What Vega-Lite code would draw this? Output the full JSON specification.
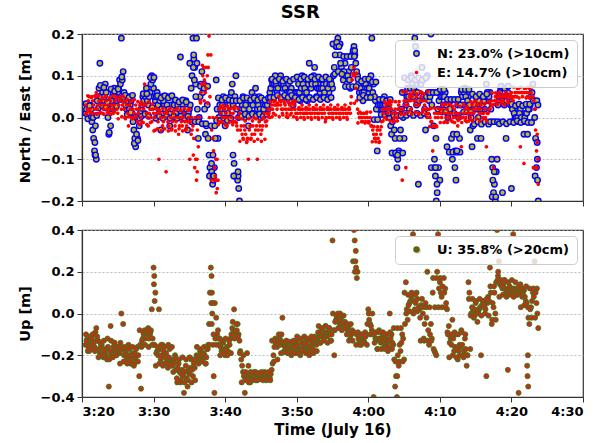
{
"$schema": "https://vega.github.io/schema/vega-lite/v6.json",
"padding": {"left": 16, "top": 4, "right": 10, "bottom": 2},
"title": {"text": "SSR", "fontSize": 18, "fontWeight": "bold", "font": "DejaVu Sans", "color": "#000", "anchor": "middle", "offset": 5},
"data": {"values": [
{"t":20.5,"n":0.01,"e":0.03,"u":-0.15},{"t":20.75,"n":0.03,"e":0.02,"u":-0.12},{"t":21,"n":0.0,"e":0.05,"u":-0.18},{"t":21.25,"n":0.02,"e":0.01,"u":-0.14},
{"t":21.5,"n":-0.03,"e":0.04,"u":-0.1},{"t":21.75,"n":-0.08,"e":0.02,"u":-0.16},{"t":22,"n":-0.1,"e":0.06,"u":-0.07},{"t":22.25,"n":0.05,"e":0.03,"u":-0.13},
{"t":22.5,"n":0.13,"e":0.01,"u":-0.19},{"t":22.75,"n":0.07,"e":0.04,"u":-0.15},{"t":23,"n":0.04,"e":0.02,"u":-0.21},{"t":23.25,"n":0.08,"e":0.05,"u":-0.17},
{"t":23.5,"n":0.03,"e":0.02,"u":-0.22},{"t":23.75,"n":-0.04,"e":0.01,"u":-0.35},{"t":24,"n":-0.02,"e":0.04,"u":-0.06},{"t":24.25,"n":0.05,"e":0.02,"u":-0.18},
{"t":24.5,"n":0.07,"e":0.03,"u":-0.14},{"t":24.75,"n":0.03,"e":0.05,"u":-0.2},{"t":25,"n":0.06,"e":0.01,"u":-0.16},{"t":25.25,"n":0.09,"e":0.04,"u":-0.19},
{"t":25.5,"n":0.19,"e":0.02,"u":0.0},{"t":25.75,"n":0.11,"e":0.05,"u":-0.05},{"t":26,"n":0.04,"e":0.0,"u":-0.18},{"t":26.25,"n":0.02,"e":0.03,"u":-0.22},
{"t":26.5,"n":0.05,"e":-0.02,"u":-0.15},{"t":26.75,"n":0.03,"e":0.02,"u":-0.24},{"t":27,"n":0.01,"e":0.04,"u":-0.19},{"t":27.25,"n":-0.03,"e":0.01,"u":-0.25},
{"t":27.5,"n":-0.07,"e":0.03,"u":-0.21},{"t":27.75,"n":-0.05,"e":-0.01,"u":-0.16},{"t":28,"n":-0.02,"e":0.02,"u":-0.3},{"t":28.25,"n":0.02,"e":0.0,"u":-0.36},
{"t":28.5,"n":0.05,"e":0.03,"u":-0.12},{"t":28.75,"n":0.01,"e":0.08,"u":-0.08},{"t":29,"n":0.07,"e":0.01,"u":-0.11},{"t":29.25,"n":0.03,"e":-0.02,"u":-0.07},
{"t":29.5,"n":0.06,"e":0.02,"u":-0.1},{"t":29.75,"n":0.1,"e":-0.01,"u":0.02},{"t":30,"n":0.07,"e":0.01,"u":0.22},{"t":30.25,"n":0.04,"e":-0.03,"u":0.1},
{"t":30.5,"n":0.06,"e":0.02,"u":-0.18},{"t":30.75,"n":0.02,"e":-0.1,"u":0.02},{"t":31,"n":-0.03,"e":0.0,"u":-0.22},{"t":31.25,"n":0.05,"e":-0.02,"u":-0.15},
{"t":31.5,"n":0.03,"e":0.01,"u":-0.24},{"t":31.75,"n":0.01,"e":-0.13,"u":-0.19},{"t":32,"n":0.05,"e":-0.01,"u":-0.26},{"t":32.25,"n":-0.02,"e":0.02,"u":-0.17},
{"t":32.5,"n":0.03,"e":-0.03,"u":-0.22},{"t":32.75,"n":0.0,"e":0.01,"u":-0.28},{"t":33,"n":0.04,"e":-0.02,"u":-0.2},{"t":33.25,"n":0.02,"e":0.02,"u":-0.31},
{"t":33.5,"n":0.01,"e":-0.04,"u":-0.24},{"t":33.75,"n":0.145,"e":0.0,"u":-0.33},{"t":34,"n":0.03,"e":-0.02,"u":-0.27},{"t":34.25,"n":0.0,"e":0.01,"u":-0.38},
{"t":34.5,"n":0.04,"e":-0.03,"u":-0.25},{"t":34.75,"n":-0.03,"e":-0.01,"u":-0.35},{"t":35,"n":0.02,"e":0.02,"u":-0.29},{"t":35.25,"n":0.07,"e":-0.04,"u":-0.22},
{"t":35.5,"n":0.19,"e":-0.02,"u":-0.3},{"t":35.75,"n":0.12,"e":-0.12,"u":-0.26},{"t":36,"n":0.19,"e":-0.15,"u":-0.2},{"t":36.25,"n":-0.05,"e":-0.07,"u":-0.23},
{"t":36.5,"n":0.05,"e":0.04,"u":-0.18},{"t":36.75,"n":0.11,"e":0.08,"u":-0.21},{"t":37,"n":0.08,"e":0.12,"u":-0.19},{"t":37.25,"n":-0.04,"e":0.06,"u":-0.24},
{"t":37.5,"n":0.03,"e":0.1,"u":-0.17},{"t":37.75,"n":-0.09,"e":0.195,"u":-0.05},{"t":38,"n":-0.14,"e":0.15,"u":0.22},{"t":38.25,"n":-0.16,"e":-0.05,"u":0.05},
{"t":38.5,"n":-0.12,"e":-0.12,"u":-0.38},{"t":38.75,"n":0.09,"e":-0.18,"u":-0.02},{"t":39,"n":-0.05,"e":-0.15,"u":-0.08},{"t":39.25,"n":0.03,"e":0.02,"u":-0.12},
{"t":39.5,"n":0.01,"e":-0.01,"u":-0.18},{"t":39.75,"n":0.05,"e":0.03,"u":-0.14},{"t":40,"n":-0.02,"e":0.0,"u":-0.2},{"t":40.25,"n":0.03,"e":-0.02,"u":-0.16},
{"t":40.5,"n":0.0,"e":0.02,"u":-0.19},{"t":40.75,"n":0.05,"e":0.01,"u":-0.12},{"t":41,"n":0.08,"e":-0.01,"u":-0.07},{"t":41.25,"n":-0.11,"e":0.02,"u":0.02},
{"t":41.5,"n":0.1,"e":0.0,"u":-0.1},{"t":41.75,"n":-0.15,"e":-0.03,"u":-0.05},{"t":42,"n":-0.2,"e":0.01,"u":-0.13},{"t":42.25,"n":0.02,"e":-0.02,"u":-0.22},
{"t":42.5,"n":0.05,"e":-0.05,"u":-0.28},{"t":42.75,"n":0.0,"e":-0.03,"u":-0.38},{"t":43,"n":0.04,"e":-0.06,"u":-0.31},{"t":43.25,"n":-0.02,"e":-0.1,"u":-0.25},
{"t":43.5,"n":0.03,"e":-0.02,"u":-0.33},{"t":43.75,"n":0.06,"e":-0.04,"u":-0.29},{"t":44,"n":0.01,"e":0.0,"u":-0.31},{"t":44.25,"n":0.07,"e":-0.03,"u":-0.28},
{"t":44.5,"n":0.02,"e":-0.1,"u":-0.32},{"t":44.75,"n":0.05,"e":-0.01,"u":-0.29},{"t":45,"n":0.0,"e":-0.04,"u":-0.31},{"t":45.25,"n":0.03,"e":-0.02,"u":-0.3},
{"t":45.5,"n":0.01,"e":0.01,"u":-0.28},{"t":45.75,"n":0.04,"e":-0.02,"u":-0.32},{"t":46,"n":0.02,"e":0.02,"u":-0.29},{"t":46.25,"n":0.06,"e":0.0,"u":-0.31},
{"t":46.5,"n":0.09,"e":0.03,"u":-0.27},{"t":46.75,"n":0.07,"e":0.01,"u":-0.2},{"t":47,"n":0.1,"e":0.04,"u":-0.12},{"t":47.25,"n":0.06,"e":0.02,"u":-0.16},
{"t":47.5,"n":0.08,"e":0.05,"u":-0.1},{"t":47.75,"n":0.1,"e":0.03,"u":-0.15},{"t":48,"n":0.07,"e":0.01,"u":-0.02},{"t":48.25,"n":0.09,"e":0.04,"u":-0.18},
{"t":48.5,"n":0.05,"e":0.02,"u":-0.14},{"t":48.75,"n":0.08,"e":0.0,"u":-0.19},{"t":49,"n":0.04,"e":0.03,"u":-0.16},{"t":49.25,"n":0.07,"e":0.01,"u":-0.2},
{"t":49.5,"n":0.03,"e":0.04,"u":-0.15},{"t":49.75,"n":0.06,"e":0.02,"u":-0.18},{"t":50,"n":0.05,"e":0.0,"u":-0.13},{"t":50.25,"n":0.08,"e":0.02,"u":-0.17},
{"t":50.5,"n":0.04,"e":0.01,"u":-0.2},{"t":50.75,"n":0.1,"e":0.03,"u":-0.14},{"t":51,"n":0.06,"e":0.0,"u":-0.18},{"t":51.25,"n":0.08,"e":0.02,"u":-0.12},
{"t":51.5,"n":0.04,"e":0.01,"u":-0.16},{"t":51.75,"n":0.13,"e":0.03,"u":-0.2},{"t":52,"n":0.07,"e":0.0,"u":-0.13},{"t":52.25,"n":0.09,"e":0.02,"u":-0.17},
{"t":52.5,"n":0.12,"e":0.01,"u":-0.11},{"t":52.75,"n":0.05,"e":0.03,"u":-0.15},{"t":53,"n":0.08,"e":0.0,"u":-0.09},{"t":53.25,"n":0.06,"e":0.02,"u":-0.14},
{"t":53.5,"n":0.09,"e":0.01,"u":-0.08},{"t":53.75,"n":0.05,"e":0.03,"u":-0.12},{"t":54,"n":0.07,"e":-0.01,"u":-0.06},{"t":54.25,"n":0.08,"e":0.02,"u":-0.11},
{"t":54.5,"n":0.06,"e":0.01,"u":-0.07},{"t":54.75,"n":0.09,"e":0.03,"u":-0.13},{"t":55,"n":0.07,"e":0.0,"u":0.35},{"t":55.25,"n":0.12,"e":0.02,"u":-0.2},
{"t":55.5,"n":0.17,"e":0.01,"u":-0.03},{"t":55.75,"n":0.19,"e":0.03,"u":0.0},{"t":56,"n":0.15,"e":0.0,"u":-0.05},{"t":56.25,"n":0.12,"e":0.02,"u":-0.02},
{"t":56.5,"n":0.09,"e":0.01,"u":-0.07},{"t":56.75,"n":0.13,"e":0.03,"u":-0.04},{"t":57,"n":0.08,"e":0.0,"u":-0.1},{"t":57.25,"n":0.11,"e":0.02,"u":-0.06},
{"t":57.5,"n":0.07,"e":0.01,"u":-0.12},{"t":57.75,"n":0.15,"e":0.09,"u":-0.08},{"t":58,"n":0.17,"e":0.12,"u":0.4},{"t":58.25,"n":0.13,"e":0.07,"u":0.3},
{"t":58.5,"n":0.1,"e":0.02,"u":0.2},{"t":58.75,"n":0.06,"e":0.0,"u":-0.13},{"t":59,"n":0.08,"e":0.01,"u":-0.15},{"t":59.25,"n":0.04,"e":-0.01,"u":-0.12},
{"t":59.5,"n":0.07,"e":0.0,"u":-0.14},{"t":59.75,"n":0.09,"e":0.01,"u":-0.1},{"t":60,"n":0.06,"e":-0.01,"u":0.02},{"t":60.25,"n":0.08,"e":0.0,"u":-0.05},
{"t":60.5,"n":0.19,"e":-0.02,"u":-0.08},{"t":60.75,"n":0.08,"e":-0.04,"u":-0.4},{"t":61,"n":0.04,"e":-0.05,"u":-0.12},{"t":61.25,"n":-0.08,"e":-0.03,"u":-0.17},
{"t":61.5,"n":0.02,"e":-0.06,"u":-0.08},{"t":61.75,"n":0.04,"e":-0.04,"u":-0.14},{"t":62,"n":0.02,"e":0.02,"u":-0.11},{"t":62.25,"n":0.05,"e":0.0,"u":-0.16},
{"t":62.5,"n":0.01,"e":0.03,"u":-0.12},{"t":62.75,"n":0.03,"e":0.01,"u":-0.18},{"t":63,"n":0.0,"e":0.04,"u":0.0},{"t":63.25,"n":-0.04,"e":0.02,"u":-0.1},
{"t":63.5,"n":0.01,"e":-0.01,"u":-0.15},{"t":63.75,"n":-0.05,"e":0.02,"u":-0.35},{"t":64,"n":-0.12,"e":0.0,"u":-0.4},{"t":64.25,"n":-0.08,"e":0.03,"u":-0.25},
{"t":64.5,"n":-0.03,"e":0.01,"u":-0.18},{"t":64.75,"n":0.06,"e":-0.15,"u":-0.1},{"t":65,"n":-0.05,"e":0.04,"u":-0.22},{"t":65.25,"n":0.03,"e":-0.12,"u":0.15},
{"t":65.5,"n":0.07,"e":0.03,"u":-0.03},{"t":65.75,"n":0.02,"e":0.05,"u":0.05},{"t":66,"n":0.1,"e":0.02,"u":0.08},{"t":66.25,"n":0.05,"e":0.06,"u":0.38},
{"t":66.5,"n":0.19,"e":0.03,"u":0.02},{"t":66.75,"n":0.03,"e":0.05,"u":0.1},{"t":67,"n":-0.16,"e":0.01,"u":0.3},{"t":67.25,"n":0.08,"e":0.04,"u":-0.02},
{"t":67.5,"n":0.12,"e":0.06,"u":0.07},{"t":67.75,"n":0.05,"e":0.02,"u":-0.12},{"t":68,"n":-0.03,"e":0.04,"u":0.05},{"t":68.25,"n":0.1,"e":0.0,"u":0.2},
{"t":68.5,"n":0.04,"e":0.02,"u":-0.15},{"t":68.75,"n":0.2,"e":-0.01,"u":-0.05},{"t":69,"n":0.06,"e":-0.08,"u":0.1},{"t":69.25,"n":-0.1,"e":0.01,"u":-0.18},
{"t":69.5,"n":-0.2,"e":-0.02,"u":-0.2},{"t":69.75,"n":0.02,"e":0.0,"u":0.38},{"t":70,"n":-0.15,"e":0.02,"u":0.15},{"t":70.25,"n":0.05,"e":0.0,"u":0.08},
{"t":70.5,"n":0.03,"e":0.03,"u":0.3},{"t":70.75,"n":0.06,"e":-0.01,"u":0.12},{"t":71,"n":-0.07,"e":0.02,"u":0.02},{"t":71.25,"n":0.02,"e":0.0,"u":-0.06},
{"t":71.5,"n":0.04,"e":0.03,"u":-0.12},{"t":71.75,"n":-0.1,"e":-0.01,"u":-0.03},{"t":72,"n":0.01,"e":0.02,"u":-0.18},{"t":72.25,"n":-0.15,"e":0.0,"u":-0.1},
{"t":72.5,"n":0.03,"e":-0.02,"u":-0.22},{"t":72.75,"n":-0.05,"e":0.01,"u":-0.15},{"t":73,"n":0.06,"e":-0.07,"u":-0.08},{"t":73.25,"n":0.03,"e":0.0,"u":-0.2},
{"t":73.5,"n":0.07,"e":0.02,"u":-0.12},{"t":73.75,"n":0.02,"e":-0.01,"u":-0.25},{"t":74,"n":0.05,"e":0.02,"u":0.15},{"t":74.25,"n":-0.03,"e":0.0,"u":-0.17},
{"t":74.5,"n":-0.07,"e":0.03,"u":0.03},{"t":74.75,"n":0.02,"e":0.01,"u":-0.02},{"t":75,"n":0.05,"e":0.04,"u":0.05},{"t":75.25,"n":-0.05,"e":0.02,"u":-0.04},
{"t":75.5,"n":0.04,"e":0.01,"u":0.02},{"t":75.75,"n":-0.05,"e":0.03,"u":-0.2},{"t":76,"n":0.05,"e":0.0,"u":0.06},{"t":76.25,"n":0.02,"e":0.02,"u":0.03},
{"t":76.5,"n":0.08,"e":-0.07,"u":-0.3},{"t":76.75,"n":0.04,"e":0.01,"u":0.08},{"t":77,"n":0.06,"e":0.02,"u":0.22},{"t":77.25,"n":-0.1,"e":0.04,"u":-0.05},
{"t":77.5,"n":-0.18,"e":-0.12,"u":0.03},{"t":77.75,"n":-0.2,"e":0.05,"u":0.0},{"t":78,"n":-0.1,"e":0.04,"u":0.4},{"t":78.25,"n":0.05,"e":0.06,"u":0.25},
{"t":78.5,"n":0.07,"e":0.04,"u":0.15},{"t":78.75,"n":-0.18,"e":0.05,"u":0.12},{"t":79,"n":0.03,"e":0.03,"u":0.16},{"t":79.25,"n":-0.05,"e":0.06,"u":0.1},
{"t":79.5,"n":0.06,"e":0.04,"u":-0.27},{"t":79.75,"n":0.04,"e":0.05,"u":0.13},{"t":80,"n":-0.17,"e":0.06,"u":0.1},{"t":80.25,"n":0.02,"e":0.04,"u":0.38},
{"t":80.5,"n":0.0,"e":0.06,"u":0.12},{"t":80.75,"n":0.01,"e":0.05,"u":0.09},{"t":81,"n":-0.01,"e":0.07,"u":-0.38},{"t":81.25,"n":0.02,"e":-0.07,"u":0.14},
{"t":81.5,"n":0.0,"e":0.06,"u":0.08},{"t":81.75,"n":-0.04,"e":-0.11,"u":0.11},{"t":82,"n":0.01,"e":0.07,"u":0.06},{"t":82.25,"n":-0.04,"e":0.05,"u":-0.3},
{"t":82.5,"n":0.02,"e":0.07,"u":-0.05},{"t":82.75,"n":0.05,"e":0.06,"u":0.03},{"t":83,"n":0.08,"e":0.05,"u":0.1},{"t":83.25,"n":0.0,"e":0.02,"u":0.25},
{"t":83.5,"n":-0.12,"e":-0.08,"u":0.05},{"t":83.75,"n":-0.2,"e":-0.16,"u":-0.07},
{"t":20.625,"n":0.02,"e":0.01,"u":-0.13},{"t":20.875,"n":0.01,"e":0.04,"u":-0.16},{"t":21.125,"n":0.03,"e":0.02,"u":-0.15},{"t":21.375,"n":-0.01,"e":0.05,"u":-0.12},
{"t":21.625,"n":-0.05,"e":0.03,"u":-0.14},{"t":21.875,"n":-0.02,"e":0.05,"u":-0.09},{"t":22.125,"n":0.04,"e":0.02,"u":-0.11},{"t":22.375,"n":0.07,"e":0.04,"u":-0.17},
{"t":22.625,"n":0.05,"e":0.03,"u":-0.16},{"t":22.875,"n":0.06,"e":0.01,"u":-0.19},{"t":23.125,"n":0.05,"e":0.03,"u":-0.18},{"t":23.375,"n":0.06,"e":0.04,"u":-0.2},
{"t":23.625,"n":0.0,"e":0.03,"u":-0.16},{"t":23.875,"n":0.02,"e":0.02,"u":-0.18},{"t":24.125,"n":0.04,"e":0.03,"u":-0.2},{"t":24.375,"n":0.06,"e":0.01,"u":-0.16},
{"t":24.625,"n":0.05,"e":0.04,"u":-0.17},{"t":24.875,"n":0.04,"e":0.02,"u":-0.19},{"t":25.125,"n":0.07,"e":0.03,"u":-0.17},{"t":25.375,"n":0.08,"e":0.05,"u":-0.14},
{"t":25.625,"n":0.09,"e":0.03,"u":-0.16},{"t":25.875,"n":0.06,"e":0.02,"u":-0.2},{"t":26.125,"n":0.03,"e":0.04,"u":-0.19},{"t":26.375,"n":0.04,"e":0.01,"u":-0.2},
{"t":26.625,"n":0.02,"e":0.03,"u":-0.21},{"t":26.875,"n":0.04,"e":0.0,"u":-0.2},{"t":27.125,"n":-0.01,"e":0.02,"u":-0.22},{"t":27.375,"n":-0.05,"e":0.0,"u":-0.19},
{"t":27.625,"n":-0.04,"e":0.02,"u":-0.23},{"t":27.875,"n":0.0,"e":0.01,"u":-0.2},{"t":28.125,"n":0.01,"e":0.03,"u":-0.15},{"t":28.375,"n":0.03,"e":-0.01,"u":-0.13},
{"t":28.625,"n":0.04,"e":0.02,"u":-0.1},{"t":28.875,"n":0.05,"e":0.03,"u":-0.12},{"t":29.125,"n":0.04,"e":0.0,"u":-0.09},{"t":29.375,"n":0.05,"e":0.01,"u":-0.12},
{"t":29.625,"n":0.08,"e":0.0,"u":-0.08},{"t":29.875,"n":0.09,"e":0.02,"u":-0.12},{"t":30.125,"n":0.05,"e":0.0,"u":-0.15},{"t":30.375,"n":0.05,"e":0.01,"u":-0.19},
{"t":30.625,"n":0.03,"e":-0.01,"u":-0.2},{"t":30.875,"n":0.04,"e":0.01,"u":-0.17},{"t":31.125,"n":0.02,"e":0.0,"u":-0.2},{"t":31.375,"n":0.04,"e":-0.01,"u":-0.18},
{"t":31.625,"n":0.02,"e":0.0,"u":-0.21},{"t":31.875,"n":0.03,"e":0.01,"u":-0.23},{"t":32.125,"n":0.02,"e":-0.02,"u":-0.21},{"t":32.375,"n":0.01,"e":0.0,"u":-0.24},
{"t":32.625,"n":0.02,"e":-0.01,"u":-0.25},{"t":32.875,"n":0.03,"e":0.0,"u":-0.23},{"t":33.125,"n":0.01,"e":-0.01,"u":-0.27},{"t":33.375,"n":0.03,"e":0.0,"u":-0.26},
{"t":33.625,"n":0.02,"e":-0.02,"u":-0.28},{"t":33.875,"n":0.01,"e":-0.01,"u":-0.29},{"t":34.125,"n":0.02,"e":0.0,"u":-0.3},{"t":34.375,"n":0.01,"e":-0.01,"u":-0.28},
{"t":34.625,"n":0.02,"e":-0.02,"u":-0.31},{"t":34.875,"n":0.01,"e":0.0,"u":-0.27},{"t":35.125,"n":0.03,"e":-0.01,"u":-0.26},{"t":35.375,"n":0.1,"e":-0.03,"u":-0.27},
{"t":35.625,"n":0.14,"e":-0.05,"u":-0.24},{"t":35.875,"n":0.08,"e":-0.1,"u":-0.22},{"t":36.125,"n":0.02,"e":-0.03,"u":-0.21},{"t":36.375,"n":0.0,"e":0.0,"u":-0.2},
{"t":36.625,"n":0.08,"e":0.06,"u":-0.2},{"t":36.875,"n":0.06,"e":0.1,"u":-0.22},{"t":37.125,"n":0.02,"e":0.08,"u":-0.2},{"t":37.375,"n":-0.02,"e":0.07,"u":-0.21},
{"t":37.625,"n":-0.05,"e":0.12,"u":-0.15},{"t":37.875,"n":-0.12,"e":0.05,"u":0.1},{"t":38.125,"n":-0.13,"e":-0.03,"u":-0.05},{"t":38.375,"n":-0.15,"e":-0.08,"u":-0.1},
{"t":38.625,"n":-0.05,"e":-0.14,"u":-0.12},{"t":38.875,"n":0.02,"e":-0.1,"u":-0.1},{"t":39.125,"n":0.0,"e":-0.01,"u":-0.15},{"t":39.375,"n":0.02,"e":0.01,"u":-0.16},
{"t":39.625,"n":0.03,"e":0.0,"u":-0.17},{"t":39.875,"n":0.01,"e":0.02,"u":-0.18},{"t":40.125,"n":0.02,"e":0.01,"u":-0.17},{"t":40.375,"n":0.01,"e":0.0,"u":-0.18},
{"t":40.625,"n":0.03,"e":0.02,"u":-0.15},{"t":40.875,"n":0.06,"e":0.0,"u":-0.1},{"t":41.125,"n":0.03,"e":0.01,"u":-0.08},{"t":41.375,"n":0.05,"e":-0.01,"u":-0.09},
{"t":41.625,"n":0.02,"e":-0.02,"u":-0.08},{"t":41.875,"n":0.0,"e":0.0,"u":-0.1},{"t":42.125,"n":0.01,"e":-0.03,"u":-0.18},{"t":42.375,"n":0.03,"e":-0.04,"u":-0.25},
{"t":42.625,"n":0.02,"e":-0.02,"u":-0.3},{"t":42.875,"n":0.03,"e":-0.04,"u":-0.28},{"t":43.125,"n":0.01,"e":-0.05,"u":-0.3},{"t":43.375,"n":0.02,"e":-0.03,"u":-0.3},
{"t":43.625,"n":0.04,"e":-0.05,"u":-0.31},{"t":43.875,"n":0.03,"e":-0.02,"u":-0.3},{"t":44.125,"n":0.05,"e":-0.04,"u":-0.3},{"t":44.375,"n":0.04,"e":-0.02,"u":-0.3},
{"t":44.625,"n":0.03,"e":-0.03,"u":-0.31},{"t":44.875,"n":0.02,"e":-0.02,"u":-0.3},{"t":45.125,"n":0.01,"e":-0.03,"u":-0.29},{"t":45.375,"n":0.02,"e":0.0,"u":-0.31},
{"t":45.625,"n":0.03,"e":-0.01,"u":-0.3},{"t":45.875,"n":0.03,"e":0.01,"u":-0.3},{"t":46.125,"n":0.04,"e":0.01,"u":-0.3},{"t":46.375,"n":0.07,"e":0.02,"u":-0.29},
{"t":46.625,"n":0.08,"e":0.02,"u":-0.24},{"t":46.875,"n":0.08,"e":0.03,"u":-0.16},{"t":47.125,"n":0.08,"e":0.03,"u":-0.14},{"t":47.375,"n":0.07,"e":0.03,"u":-0.13},
{"t":47.625,"n":0.09,"e":0.04,"u":-0.12},{"t":47.875,"n":0.08,"e":0.02,"u":-0.1},{"t":48.125,"n":0.08,"e":0.02,"u":-0.15},{"t":48.375,"n":0.07,"e":0.03,"u":-0.16},
{"t":48.625,"n":0.06,"e":0.01,"u":-0.16},{"t":48.875,"n":0.06,"e":0.02,"u":-0.17},{"t":49.125,"n":0.06,"e":0.02,"u":-0.18},{"t":49.375,"n":0.05,"e":0.02,"u":-0.17},
{"t":49.625,"n":0.05,"e":0.03,"u":-0.16},{"t":49.875,"n":0.06,"e":0.01,"u":-0.15},{"t":50.125,"n":0.06,"e":0.01,"u":-0.15},{"t":50.375,"n":0.06,"e":0.02,"u":-0.18},
{"t":50.625,"n":0.07,"e":0.02,"u":-0.17},{"t":50.875,"n":0.08,"e":0.01,"u":-0.16},{"t":51.125,"n":0.07,"e":0.01,"u":-0.15},{"t":51.375,"n":0.06,"e":0.01,"u":-0.14},
{"t":51.625,"n":0.08,"e":0.02,"u":-0.18},{"t":51.875,"n":0.09,"e":0.01,"u":-0.16},{"t":52.125,"n":0.08,"e":0.01,"u":-0.15},{"t":52.375,"n":0.1,"e":0.02,"u":-0.14},
{"t":52.625,"n":0.08,"e":0.02,"u":-0.13},{"t":52.875,"n":0.07,"e":0.01,"u":-0.12},{"t":53.125,"n":0.07,"e":0.01,"u":-0.11},{"t":53.375,"n":0.07,"e":0.02,"u":-0.11},
{"t":53.625,"n":0.07,"e":0.02,"u":-0.1},{"t":53.875,"n":0.06,"e":0.01,"u":-0.09},{"t":54.125,"n":0.08,"e":0.0,"u":-0.09},{"t":54.375,"n":0.07,"e":0.02,"u":-0.09},
{"t":54.625,"n":0.08,"e":0.02,"u":-0.1},{"t":54.875,"n":0.08,"e":0.01,"u":-0.1},{"t":55.125,"n":0.1,"e":0.01,"u":-0.08},{"t":55.375,"n":0.15,"e":0.02,"u":-0.04},
{"t":55.625,"n":0.18,"e":0.02,"u":-0.02},{"t":55.875,"n":0.17,"e":0.01,"u":-0.03},{"t":56.125,"n":0.13,"e":0.01,"u":-0.04},{"t":56.375,"n":0.11,"e":0.02,"u":-0.05},
{"t":56.625,"n":0.11,"e":0.02,"u":-0.06},{"t":56.875,"n":0.1,"e":0.01,"u":-0.07},{"t":57.125,"n":0.1,"e":0.01,"u":-0.08},{"t":57.375,"n":0.09,"e":0.02,"u":-0.09},
{"t":57.625,"n":0.12,"e":0.05,"u":-0.1},{"t":57.875,"n":0.16,"e":0.1,"u":0.25},{"t":58.125,"n":0.15,"e":0.1,"u":0.2},{"t":58.375,"n":0.11,"e":0.04,"u":-0.1},
{"t":58.625,"n":0.08,"e":0.01,"u":-0.12},{"t":58.875,"n":0.07,"e":0.0,"u":-0.14},{"t":59.125,"n":0.06,"e":0.0,"u":-0.13},{"t":59.375,"n":0.06,"e":0.01,"u":-0.13},
{"t":59.625,"n":0.08,"e":-0.01,"u":-0.11},{"t":59.875,"n":0.07,"e":0.0,"u":-0.05},{"t":60.125,"n":0.07,"e":-0.01,"u":-0.03},{"t":60.375,"n":0.1,"e":-0.02,"u":-0.06},
{"t":60.625,"n":0.06,"e":-0.03,"u":-0.1},{"t":60.875,"n":0.05,"e":-0.05,"u":-0.14},{"t":61.125,"n":0.02,"e":-0.04,"u":-0.13},{"t":61.375,"n":0.03,"e":-0.05,"u":-0.12},
{"t":61.625,"n":0.03,"e":-0.03,"u":-0.12},{"t":61.875,"n":0.03,"e":-0.01,"u":-0.13},{"t":62.125,"n":0.03,"e":0.01,"u":-0.13},{"t":62.375,"n":0.03,"e":0.02,"u":-0.14},
{"t":62.625,"n":0.02,"e":0.02,"u":-0.14},{"t":62.875,"n":0.02,"e":0.02,"u":-0.13},{"t":63.125,"n":-0.02,"e":0.03,"u":-0.12},{"t":63.375,"n":-0.01,"e":0.01,"u":-0.14},
{"t":63.625,"n":-0.03,"e":0.0,"u":-0.22},{"t":63.875,"n":-0.09,"e":0.01,"u":-0.3},{"t":64.125,"n":-0.1,"e":0.02,"u":-0.2},{"t":64.375,"n":-0.05,"e":0.02,"u":-0.15},
{"t":64.625,"n":0.02,"e":0.02,"u":-0.14},{"t":64.875,"n":0.0,"e":0.02,"u":-0.12},{"t":65.125,"n":0.01,"e":0.03,"u":-0.05},{"t":65.375,"n":0.05,"e":0.04,"u":0.02},
{"t":65.625,"n":0.05,"e":0.04,"u":0.04},{"t":65.875,"n":0.07,"e":0.04,"u":0.06},{"t":66.125,"n":0.08,"e":0.05,"u":0.09},{"t":66.375,"n":0.07,"e":0.04,"u":0.06},
{"t":66.625,"n":0.06,"e":0.04,"u":0.05},{"t":66.875,"n":0.06,"e":0.03,"u":0.07},{"t":67.125,"n":0.04,"e":0.03,"u":0.02},{"t":67.375,"n":0.08,"e":0.05,"u":0.04},
{"t":67.625,"n":0.09,"e":0.04,"u":0.0},{"t":67.875,"n":0.02,"e":0.03,"u":-0.05},{"t":68.125,"n":0.05,"e":0.02,"u":-0.02},{"t":68.375,"n":0.06,"e":0.01,"u":-0.08},
{"t":68.625,"n":0.05,"e":0.0,"u":-0.1},{"t":68.875,"n":0.03,"e":-0.01,"u":-0.12},{"t":69.125,"n":-0.02,"e":-0.02,"u":-0.17},{"t":69.375,"n":-0.14,"e":0.0,"u":-0.19},
{"t":69.625,"n":-0.18,"e":0.01,"u":0.2},{"t":69.875,"n":0.04,"e":0.01,"u":0.12},{"t":70.125,"n":0.05,"e":0.01,"u":0.1},{"t":70.375,"n":0.05,"e":0.02,"u":0.13},
{"t":70.625,"n":0.05,"e":0.01,"u":0.1},{"t":70.875,"n":0.03,"e":0.0,"u":0.05},{"t":71.125,"n":0.0,"e":0.01,"u":-0.1},{"t":71.375,"n":0.02,"e":0.01,"u":-0.14},
{"t":71.625,"n":-0.05,"e":0.01,"u":-0.15},{"t":71.875,"n":-0.04,"e":0.0,"u":-0.12},{"t":72.125,"n":-0.08,"e":0.01,"u":-0.16},{"t":72.375,"n":-0.04,"e":0.01,"u":-0.17},
{"t":72.625,"n":0.0,"e":0.0,"u":-0.18},{"t":72.875,"n":0.03,"e":0.0,"u":-0.16},{"t":73.125,"n":0.05,"e":0.0,"u":-0.15},{"t":73.375,"n":0.06,"e":0.01,"u":-0.18},
{"t":73.625,"n":0.05,"e":0.0,"u":-0.17},{"t":73.875,"n":0.04,"e":0.01,"u":-0.2},{"t":74.125,"n":0.03,"e":0.01,"u":0.1},{"t":74.375,"n":0.0,"e":0.01,"u":0.0},
{"t":74.625,"n":-0.02,"e":0.02,"u":0.01},{"t":74.875,"n":0.03,"e":0.02,"u":0.02},{"t":75.125,"n":0.02,"e":0.03,"u":0.01},{"t":75.375,"n":0.0,"e":0.02,"u":0.0},
{"t":75.625,"n":0.02,"e":0.02,"u":0.03},{"t":75.875,"n":0.03,"e":0.01,"u":0.04},{"t":76.125,"n":0.04,"e":0.01,"u":0.04},{"t":76.375,"n":0.05,"e":0.0,"u":0.02},
{"t":76.625,"n":0.06,"e":0.01,"u":0.05},{"t":76.875,"n":0.05,"e":0.02,"u":0.06},{"t":77.125,"n":0.02,"e":0.03,"u":0.1},{"t":77.375,"n":-0.12,"e":0.03,"u":0.05},
{"t":77.625,"n":-0.16,"e":0.04,"u":0.1},{"t":77.875,"n":-0.13,"e":0.04,"u":0.15},{"t":78.125,"n":0.03,"e":0.05,"u":0.18},{"t":78.375,"n":0.06,"e":0.05,"u":0.14},
{"t":78.625,"n":0.05,"e":0.05,"u":0.13},{"t":78.875,"n":0.04,"e":0.04,"u":0.14},{"t":79.125,"n":0.05,"e":0.05,"u":0.12},{"t":79.375,"n":0.04,"e":0.05,"u":0.11},
{"t":79.625,"n":0.05,"e":0.05,"u":0.12},{"t":79.875,"n":0.03,"e":0.05,"u":0.11},{"t":80.125,"n":0.02,"e":0.05,"u":0.12},{"t":80.375,"n":0.01,"e":0.05,"u":0.11},
{"t":80.625,"n":0.0,"e":0.06,"u":0.1},{"t":80.875,"n":0.0,"e":0.06,"u":0.1},{"t":81.125,"n":0.01,"e":0.06,"u":0.12},{"t":81.375,"n":0.0,"e":0.06,"u":0.1},
{"t":81.625,"n":-0.01,"e":0.06,"u":0.09},{"t":81.875,"n":0.0,"e":0.06,"u":0.08},{"t":82.125,"n":0.01,"e":0.06,"u":0.05},{"t":82.375,"n":0.02,"e":0.06,"u":-0.02},
{"t":82.625,"n":0.03,"e":0.06,"u":0.02},{"t":82.875,"n":0.06,"e":0.05,"u":0.06},{"t":83.125,"n":0.04,"e":0.04,"u":0.08},{"t":83.375,"n":-0.05,"e":-0.03,"u":0.1},
{"t":83.625,"n":-0.1,"e":-0.06,"u":0.0},
{"t":20.56,"n":0.033,"e":0.008,"u":-0.1},{"t":20.81,"n":-0.003,"e":0.052,"u":-0.18},{"t":21.06,"n":0.028,"e":0.015,"u":-0.11},{"t":21.31,"n":0.002,"e":0.048,"u":-0.17},
{"t":21.56,"n":0.0,"e":0.01,"u":-0.1},{"t":21.81,"n":-0.09,"e":0.052,"u":-0.18},{"t":22.06,"n":0.005,"e":0.008,"u":-0.13},{"t":22.31,"n":0.023,"e":0.052,"u":-0.21},
{"t":22.56,"n":0.077,"e":0.012,"u":-0.14},{"t":22.81,"n":0.028,"e":0.047,"u":-0.2},{"t":23.06,"n":0.072,"e":0.008,"u":-0.13},{"t":23.31,"n":0.023,"e":0.052,"u":-0.21},
{"t":23.56,"n":0.036,"e":0.012,"u":-0.12},{"t":23.81,"n":-0.036,"e":0.047,"u":-0.22},{"t":24.06,"n":0.068,"e":0.008,"u":-0.13},{"t":24.31,"n":0.022,"e":0.052,"u":-0.21},
{"t":24.56,"n":0.063,"e":0.013,"u":-0.14},{"t":24.81,"n":0.027,"e":0.048,"u":-0.2},{"t":25.06,"n":0.068,"e":-0.003,"u":-0.16},{"t":25.31,"n":0.043,"e":0.043,"u":-0.24},
{"t":25.56,"n":0.097,"e":0.002,"u":-0.17},{"t":25.81,"n":0.048,"e":0.038,"u":-0.23},{"t":26.06,"n":0.053,"e":-0.003,"u":-0.16},{"t":26.31,"n":0.007,"e":0.043,"u":-0.24},
{"t":26.56,"n":0.048,"e":0.002,"u":-0.17},{"t":26.81,"n":0.012,"e":0.038,"u":-0.23},{"t":27.06,"n":0.053,"e":-0.003,"u":-0.16},{"t":27.31,"n":-0.062,"e":0.043,"u":-0.24},
{"t":27.56,"n":0.002,"e":0.002,"u":-0.17},{"t":27.81,"n":-0.055,"e":0.038,"u":-0.23},{"t":28.06,"n":-0.002,"e":-0.017,"u":-0.08},{"t":28.31,"n":0.003,"e":0.037,"u":-0.16},
{"t":28.56,"n":0.057,"e":-0.012,"u":-0.09},{"t":28.81,"n":0.008,"e":0.032,"u":-0.15},{"t":29.06,"n":0.057,"e":-0.017,"u":-0.08},{"t":29.31,"n":0.003,"e":0.037,"u":-0.16},
{"t":29.56,"n":0.096,"e":-0.012,"u":-0.09},{"t":29.81,"n":0.024,"e":0.032,"u":-0.15},{"t":30.06,"n":0.096,"e":-0.032,"u":-0.15},{"t":30.31,"n":-0.002,"e":0.022,"u":-0.25},
{"t":30.56,"n":0.052,"e":-0.027,"u":-0.16},{"t":30.81,"n":0.003,"e":0.017,"u":-0.24},{"t":31.06,"n":0.047,"e":-0.032,"u":-0.15},{"t":31.31,"n":-0.002,"e":0.022,"u":-0.25},
{"t":31.56,"n":0.052,"e":-0.027,"u":-0.16},{"t":31.81,"n":0.003,"e":0.017,"u":-0.24},{"t":32.06,"n":0.047,"e":-0.032,"u":-0.15},{"t":32.31,"n":-0.002,"e":0.022,"u":-0.25},
{"t":32.56,"n":0.052,"e":-0.027,"u":-0.16},{"t":32.81,"n":0.003,"e":0.017,"u":-0.24},{"t":33.06,"n":0.042,"e":-0.032,"u":-0.21},{"t":33.31,"n":-0.002,"e":0.022,"u":-0.33},
{"t":33.56,"n":0.037,"e":-0.027,"u":-0.22},{"t":33.81,"n":0.003,"e":0.017,"u":-0.32},{"t":34.06,"n":0.042,"e":-0.032,"u":-0.21},{"t":34.31,"n":-0.002,"e":0.022,"u":-0.33},
{"t":34.56,"n":0.037,"e":-0.027,"u":-0.22},{"t":34.81,"n":0.003,"e":0.017,"u":-0.32},{"t":35.06,"n":0.13,"e":-0.1,"u":-0.21},{"t":35.31,"n":-0.01,"e":0.0,"u":-0.33},
{"t":35.56,"n":0.12,"e":-0.09,"u":-0.22},{"t":35.81,"n":-0.01,"e":0.0,"u":-0.32},{"t":36.06,"n":0.13,"e":-0.1,"u":-0.16},{"t":36.31,"n":-0.01,"e":0.0,"u":-0.24},
{"t":36.56,"n":0.075,"e":0.035,"u":-0.17},{"t":36.81,"n":-0.015,"e":0.125,"u":-0.23},{"t":37.06,"n":0.07,"e":0.04,"u":-0.16},{"t":37.31,"n":-0.015,"e":0.12,"u":-0.24},
{"t":37.56,"n":0.075,"e":0.035,"u":-0.17},{"t":37.81,"n":-0.14,"e":0.0,"u":-0.15},{"t":38.06,"n":-0.02,"e":-0.15,"u":0.05},{"t":38.31,"n":-0.14,"e":0.0,"u":-0.15},
{"t":38.56,"n":-0.02,"e":-0.15,"u":0.05},{"t":38.81,"n":-0.007,"e":0.0,"u":-0.15},{"t":39.06,"n":0.047,"e":-0.017,"u":-0.12},{"t":39.31,"n":-0.007,"e":0.027,"u":-0.2},
{"t":39.56,"n":0.042,"e":-0.012,"u":-0.13},{"t":39.81,"n":-0.002,"e":0.022,"u":-0.19},{"t":40.06,"n":0.047,"e":-0.017,"u":-0.12},{"t":40.31,"n":-0.007,"e":0.027,"u":-0.2},
{"t":40.56,"n":0.042,"e":-0.012,"u":-0.13},{"t":40.81,"n":-0.002,"e":0.022,"u":-0.19},{"t":41.06,"n":0.04,"e":-0.017,"u":-0.04},{"t":41.31,"n":-0.14,"e":0.027,"u":-0.12},
{"t":41.56,"n":0.04,"e":-0.012,"u":-0.05},{"t":41.81,"n":-0.14,"e":0.022,"u":-0.11},{"t":42.06,"n":0.04,"e":-0.057,"u":-0.19},{"t":42.31,"n":0.003,"e":-0.003,"u":-0.33},
{"t":42.56,"n":0.047,"e":-0.052,"u":-0.2},{"t":42.81,"n":0.008,"e":-0.008,"u":-0.32},{"t":43.06,"n":0.047,"e":-0.057,"u":-0.19},{"t":43.31,"n":0.003,"e":-0.003,"u":-0.33},
{"t":43.56,"n":0.042,"e":-0.052,"u":-0.28},{"t":43.81,"n":0.008,"e":-0.008,"u":-0.32},{"t":44.06,"n":0.047,"e":-0.057,"u":-0.28},{"t":44.31,"n":0.003,"e":-0.003,"u":-0.32},
{"t":44.56,"n":0.042,"e":-0.052,"u":-0.285},{"t":44.81,"n":0.008,"e":-0.008,"u":-0.315},{"t":45.06,"n":0.047,"e":-0.057,"u":-0.28},{"t":45.31,"n":0.003,"e":-0.003,"u":-0.32},
{"t":45.56,"n":0.042,"e":-0.052,"u":-0.285},{"t":45.81,"n":0.008,"e":-0.008,"u":-0.315},{"t":46.06,"n":0.047,"e":0.002,"u":-0.28},{"t":46.31,"n":0.048,"e":0.038,"u":-0.32},
{"t":46.56,"n":0.092,"e":0.002,"u":-0.13},{"t":46.81,"n":0.048,"e":0.038,"u":-0.23},{"t":47.06,"n":0.087,"e":0.006,"u":-0.14},{"t":47.31,"n":0.053,"e":0.034,"u":-0.22},
{"t":47.56,"n":0.092,"e":0.002,"u":-0.13},{"t":47.81,"n":0.048,"e":0.038,"u":-0.19},{"t":48.06,"n":0.087,"e":0.006,"u":-0.135},{"t":48.31,"n":0.053,"e":0.034,"u":-0.185},
{"t":48.56,"n":0.092,"e":0.002,"u":-0.13},{"t":48.81,"n":0.048,"e":0.038,"u":-0.19},{"t":49.06,"n":0.087,"e":0.006,"u":-0.135},{"t":49.31,"n":0.053,"e":0.034,"u":-0.185},
{"t":49.56,"n":0.092,"e":0.002,"u":-0.13},{"t":49.81,"n":0.048,"e":0.038,"u":-0.19},{"t":50.06,"n":0.097,"e":-0.004,"u":-0.11},{"t":50.31,"n":0.043,"e":0.024,"u":-0.19},
{"t":50.56,"n":0.092,"e":0.0,"u":-0.12},{"t":50.81,"n":0.048,"e":0.02,"u":-0.18},{"t":51.06,"n":0.097,"e":-0.004,"u":-0.11},{"t":51.31,"n":0.043,"e":0.024,"u":-0.19},
{"t":51.56,"n":0.092,"e":0.0,"u":-0.12},{"t":51.81,"n":0.048,"e":0.02,"u":-0.18},{"t":52.06,"n":0.097,"e":-0.004,"u":-0.11},{"t":52.31,"n":0.043,"e":0.024,"u":-0.19},
{"t":52.56,"n":0.092,"e":0.0,"u":-0.12},{"t":52.81,"n":0.048,"e":0.02,"u":-0.18},{"t":53.06,"n":0.097,"e":-0.004,"u":-0.06},{"t":53.31,"n":0.043,"e":0.024,"u":-0.14},
{"t":53.56,"n":0.092,"e":0.0,"u":-0.07},{"t":53.81,"n":0.048,"e":0.02,"u":-0.13},{"t":54.06,"n":0.097,"e":-0.004,"u":-0.06},{"t":54.31,"n":0.043,"e":0.024,"u":-0.14},
{"t":54.56,"n":0.092,"e":0.0,"u":-0.07},{"t":54.81,"n":0.048,"e":0.02,"u":-0.13},{"t":55.06,"n":0.176,"e":-0.004,"u":0.0},{"t":55.31,"n":0.104,"e":0.024,"u":-0.08},
{"t":55.56,"n":0.17,"e":0.0,"u":-0.01},{"t":55.81,"n":0.11,"e":0.02,"u":-0.07},{"t":56.06,"n":0.176,"e":-0.004,"u":0.0},{"t":56.31,"n":0.104,"e":0.024,"u":-0.08},
{"t":56.56,"n":0.146,"e":0.0,"u":-0.01},{"t":56.81,"n":0.074,"e":0.02,"u":-0.07},{"t":57.06,"n":0.146,"e":-0.004,"u":-0.05},{"t":57.31,"n":0.074,"e":0.024,"u":-0.13},
{"t":57.56,"n":0.146,"e":0.034,"u":-0.05},{"t":57.81,"n":0.074,"e":0.106,"u":-0.13},{"t":58.06,"n":0.146,"e":0.034,"u":-0.09},{"t":58.31,"n":0.074,"e":0.106,"u":-0.15},
{"t":58.56,"n":0.092,"e":-0.013,"u":-0.09},{"t":58.81,"n":0.048,"e":0.013,"u":-0.15},{"t":59.06,"n":0.087,"e":-0.01,"u":-0.1},{"t":59.31,"n":0.053,"e":0.01,"u":-0.14},
{"t":59.56,"n":0.092,"e":-0.013,"u":-0.09},{"t":59.81,"n":0.048,"e":0.013,"u":-0.15},{"t":60.06,"n":0.092,"e":-0.013,"u":0.0},{"t":60.31,"n":0.048,"e":0.013,"u":-0.1},
{"t":60.56,"n":0.085,"e":-0.058,"u":0.0},{"t":60.81,"n":-0.005,"e":-0.022,"u":-0.1},{"t":61.06,"n":0.085,"e":-0.058,"u":-0.09},{"t":61.31,"n":-0.005,"e":-0.022,"u":-0.17},
{"t":61.56,"n":0.043,"e":-0.058,"u":-0.09},{"t":61.81,"n":0.007,"e":-0.022,"u":-0.17},{"t":62.06,"n":0.043,"e":-0.008,"u":-0.09},{"t":62.31,"n":0.007,"e":0.038,"u":-0.17},
{"t":62.56,"n":0.04,"e":-0.004,"u":-0.1},{"t":62.81,"n":0.01,"e":0.034,"u":-0.16},{"t":63.06,"n":0.043,"e":-0.008,"u":-0.09},{"t":63.31,"n":-0.085,"e":0.038,"u":-0.17},
{"t":63.56,"n":0.005,"e":-0.008,"u":-0.07},{"t":63.81,"n":-0.085,"e":0.038,"u":-0.23},{"t":64.06,"n":0.005,"e":-0.008,"u":-0.07},{"t":64.31,"n":-0.085,"e":0.038,"u":-0.23},
{"t":64.56,"n":0.005,"e":0.008,"u":-0.07},{"t":64.81,"n":-0.085,"e":0.062,"u":-0.23},{"t":65.06,"n":0.095,"e":0.008,"u":0.1},{"t":65.31,"n":0.005,"e":0.062,"u":0.0},
{"t":65.56,"n":0.09,"e":0.013,"u":0.09},{"t":65.81,"n":0.01,"e":0.057,"u":0.01},{"t":66.06,"n":0.095,"e":0.008,"u":0.1},{"t":66.31,"n":0.005,"e":0.062,"u":0.0},
{"t":66.56,"n":0.09,"e":0.013,"u":0.09},{"t":66.81,"n":0.01,"e":0.057,"u":0.01},{"t":67.06,"n":0.095,"e":0.008,"u":0.03},{"t":67.31,"n":0.005,"e":0.062,"u":-0.13},
{"t":67.56,"n":0.09,"e":0.013,"u":0.03},{"t":67.81,"n":0.01,"e":0.057,"u":-0.13},{"t":68.06,"n":0.095,"e":0.008,"u":0.03},{"t":68.31,"n":0.005,"e":0.062,"u":-0.13},
{"t":68.56,"n":0.06,"e":-0.022,"u":0.03},{"t":68.81,"n":-0.12,"e":0.022,"u":-0.13},{"t":69.06,"n":0.06,"e":-0.022,"u":0.17},{"t":69.31,"n":-0.12,"e":0.022,"u":0.03},
{"t":69.56,"n":0.06,"e":-0.022,"u":0.17},{"t":69.81,"n":-0.12,"e":0.022,"u":0.03},{"t":70.06,"n":0.067,"e":-0.012,"u":0.17},{"t":70.31,"n":0.013,"e":0.032,"u":0.03},
{"t":70.56,"n":0.067,"e":-0.012,"u":0.17},{"t":70.81,"n":0.013,"e":0.032,"u":0.03},{"t":71.06,"n":0.043,"e":-0.012,"u":-0.09},{"t":71.31,"n":-0.083,"e":0.032,"u":-0.21},
{"t":71.56,"n":0.043,"e":-0.007,"u":-0.1},{"t":71.81,"n":-0.083,"e":0.027,"u":-0.2},{"t":72.06,"n":0.043,"e":-0.012,"u":-0.09},{"t":72.31,"n":-0.083,"e":0.032,"u":-0.21},
{"t":72.56,"n":0.043,"e":-0.007,"u":-0.1},{"t":72.81,"n":-0.083,"e":0.027,"u":-0.2},{"t":73.06,"n":0.067,"e":-0.012,"u":-0.09},{"t":73.31,"n":0.013,"e":0.032,"u":-0.21},
{"t":73.56,"n":0.067,"e":-0.007,"u":-0.1},{"t":73.81,"n":0.013,"e":0.027,"u":-0.2},{"t":74.06,"n":0.067,"e":-0.008,"u":0.07},{"t":74.31,"n":0.013,"e":0.038,"u":-0.01},
{"t":74.56,"n":0.056,"e":-0.008,"u":0.07},{"t":74.81,"n":-0.016,"e":0.038,"u":-0.01},{"t":75.06,"n":0.05,"e":-0.003,"u":0.06},{"t":75.31,"n":-0.01,"e":0.033,"u":0.0},
{"t":75.56,"n":0.056,"e":-0.008,"u":0.07},{"t":75.81,"n":-0.016,"e":0.038,"u":-0.01},{"t":76.06,"n":0.05,"e":-0.003,"u":0.06},{"t":76.31,"n":-0.01,"e":0.033,"u":0.0},
{"t":76.56,"n":0.056,"e":-0.008,"u":0.07},{"t":76.81,"n":-0.016,"e":0.038,"u":-0.01},{"t":77.06,"n":-0.01,"e":0.031,"u":0.13},{"t":77.31,"n":-0.19,"e":0.059,"u":-0.03},
{"t":77.56,"n":-0.01,"e":0.031,"u":0.13},{"t":77.81,"n":-0.19,"e":0.059,"u":-0.03},{"t":78.06,"n":-0.01,"e":0.031,"u":0.16},{"t":78.31,"n":-0.015,"e":0.059,"u":0.08},
{"t":78.56,"n":0.075,"e":0.035,"u":0.16},{"t":78.81,"n":-0.01,"e":0.055,"u":0.09},{"t":79.06,"n":0.07,"e":0.031,"u":0.16},{"t":79.31,"n":-0.015,"e":0.059,"u":0.08},
{"t":79.56,"n":0.075,"e":0.035,"u":0.15},{"t":79.81,"n":-0.01,"e":0.055,"u":0.09},{"t":80.06,"n":0.032,"e":0.047,"u":0.16},{"t":80.31,"n":-0.012,"e":0.073,"u":0.08},
{"t":80.56,"n":0.028,"e":0.05,"u":0.15},{"t":80.81,"n":-0.008,"e":0.07,"u":0.09},{"t":81.06,"n":0.032,"e":0.047,"u":0.13},{"t":81.31,"n":-0.012,"e":0.073,"u":0.03},
{"t":81.56,"n":0.028,"e":0.05,"u":0.12},{"t":81.81,"n":-0.008,"e":0.07,"u":0.04},{"t":82.06,"n":0.032,"e":0.047,"u":0.13},{"t":82.31,"n":-0.012,"e":0.073,"u":0.03},
{"t":82.56,"n":0.032,"e":0.047,"u":0.12},{"t":82.81,"n":-0.012,"e":0.073,"u":-0.02},{"t":83.06,"n":0.04,"e":-0.12,"u":0.12},{"t":83.31,"n":-0.14,"e":0.02,"u":-0.02},
{"t":83.56,"n":0.04,"e":-0.12,"u":0.12},
{"t":21.8,"n":-0.06},{"t":21.9,"n":-0.09},{"t":35.6,"n":0.15},{"t":35.7,"n":0.09},{"t":35.9,"n":0.05},{"t":38.1,"n":-0.11},{"t":38.3,"n":-0.09},{"t":38.4,"n":-0.14},
{"t":41.9,"n":-0.17},{"t":41.8,"n":-0.13},{"t":41.1,"n":-0.09},{"t":41.2,"n":-0.14},{"t":69.4,"n":-0.12},{"t":69.6,"n":-0.16},{"t":69.45,"n":-0.05},{"t":72.1,"n":-0.12},
{"t":72.4,"n":-0.08},{"t":77.4,"n":-0.15},{"t":77.6,"n":-0.13},{"t":83.6,"n":-0.06},{"t":83.65,"n":-0.15},{"t":83.7,"n":0.03},{"t":55.6,"n":0.18},{"t":55.9,"n":0.17},
{"t":58.1,"n":0.16},{"t":64.1,"n":-0.09},{"t":66.6,"n":0.17},
{"t":36.1,"e":-0.13},{"t":38.6,"e":-0.15},{"t":38.7,"e":-0.1},{"t":38.9,"e":-0.17},{"t":37.1,"e":0.09},{"t":37.6,"e":0.15},{"t":83.55,"e":-0.12},{"t":83.6,"e":-0.04},{"t":83.7,"e":-0.1},
{"t":30.1,"u":0.18},{"t":30.05,"u":0.14},{"t":30.15,"u":0.06},{"t":38.1,"u":0.18},{"t":38.15,"u":0.1},{"t":38.2,"u":0.0},{"t":38.4,"u":-0.3},{"t":58.1,"u":0.35},
{"t":58.2,"u":0.25},{"t":58.3,"u":0.22},{"t":58.4,"u":0.17},{"t":64.05,"u":-0.3},{"t":78.1,"u":0.3},{"t":78.15,"u":0.2},{"t":82.2,"u":-0.25},{"t":82.3,"u":-0.2},{"t":82.35,"u":-0.35}
]},
"spacing": 14,
"resolve": {"scale": {"fill": "independent", "stroke": "independent", "size": "independent"}},
"vconcat": [
{
"width": 501, "height": 167,
"transform": [{"fold": ["n", "e"], "as": ["series", "val"]}, {"filter": "isValid(datum.val)"}],
"mark": {"type": "circle", "strokeWidth": 1.4, "opacity": 1, "clip": true},
"encoding": {
"x": {"field": "t", "type": "quantitative", "scale": {"domain": [20, 90], "nice": false, "zero": false}, "axis": {"values": [20,30,40,50,60,70,80,90], "labels": false, "title": null, "grid": false}},
"y": {"field": "val", "type": "quantitative", "scale": {"domain": [-0.2, 0.2], "nice": false}, "axis": {"values": [-0.2,-0.1,0,0.1,0.2], "format": ".1f", "title": "North / East [m]"}},
"fill": {"field": "series", "type": "nominal", "scale": {"domain": ["n", "e"], "range": ["#bcbd22", "#ff0000"]}, "legend": {"title": null, "labelExpr": "datum.label == 'n' ? 'N: 23.0% (>10cm)' : 'E: 14.7% (>10cm)'"}},
"stroke": {"field": "series", "type": "nominal", "scale": {"domain": ["n", "e"], "range": ["#0000ff", "#ff0000"]}, "legend": {"title": null, "labelExpr": "datum.label == 'n' ? 'N: 23.0% (>10cm)' : 'E: 14.7% (>10cm)'"}},
"size": {"field": "series", "type": "nominal", "scale": {"domain": ["n", "e"], "range": [30, 5]}, "legend": {"title": null, "labelExpr": "datum.label == 'n' ? 'N: 23.0% (>10cm)' : 'E: 14.7% (>10cm)'"}},
"order": {"field": "series", "sort": "descending"}
}
},
{
"width": 501, "height": 167,
"transform": [{"fold": ["u"], "as": ["series", "val"]}, {"filter": "isValid(datum.val)"}],
"mark": {"type": "circle", "strokeWidth": 0.8, "size": 26, "opacity": 1, "clip": true},
"encoding": {
"x": {"field": "t", "type": "quantitative", "scale": {"domain": [20, 90], "nice": false, "zero": false}, "axis": {"values": [20,30,40,50,60,70,80,90], "title": "Time (July 16)", "grid": false, "labelExpr": "datum.value < 60 ? '3:' + datum.value : '4:' + (datum.value == 60 ? '00' : (datum.value - 60))"}},
"y": {"field": "val", "type": "quantitative", "scale": {"domain": [-0.4, 0.4], "nice": false}, "axis": {"values": [-0.4,-0.2,0,0.2,0.4], "format": ".1f", "title": "Up [m]"}},
"fill": {"field": "series", "type": "nominal", "scale": {"domain": ["u"], "range": ["#c0301a"]}, "legend": {"title": null, "symbolSize": 26, "labelExpr": "'U: 35.8% (>20cm)'"}},
"stroke": {"field": "series", "type": "nominal", "scale": {"domain": ["u"], "range": ["#2e7d12"]}, "legend": {"title": null, "symbolSize": 26, "labelExpr": "'U: 35.8% (>20cm)'"}}
}
}
],
"config": {
"font": "DejaVu Sans",
"view": {"stroke": "#333", "strokeWidth": 1.2},
"axis": {"labelFont": "DejaVu Sans", "labelFontSize": 13, "labelFontWeight": "bold", "labelColor": "#000", "titleFont": "DejaVu Sans", "titleFontSize": 14.5, "titleFontWeight": "bold", "titleColor": "#000", "tickColor": "#333", "domainColor": "#333", "domainWidth": 1.2, "tickSize": 5, "labelPadding": 3, "gridColor": "#aaa", "gridDash": [2, 2], "gridWidth": 0.8},
"axisX": {"titleFontSize": 15, "titlePadding": 4},
"axisY": {"titlePadding": 8},
"legend": {"orient": "top-right", "offset": 6, "labelFont": "DejaVu Sans", "labelFontSize": 13, "labelFontWeight": "bold", "labelColor": "#000", "fillColor": "rgba(255,255,255,0.8)", "strokeColor": "#ccc", "cornerRadius": 4, "padding": 7, "rowPadding": 5, "symbolOffset": 8, "labelOffset": 14, "symbolStrokeWidth": 1.4}
}
}
